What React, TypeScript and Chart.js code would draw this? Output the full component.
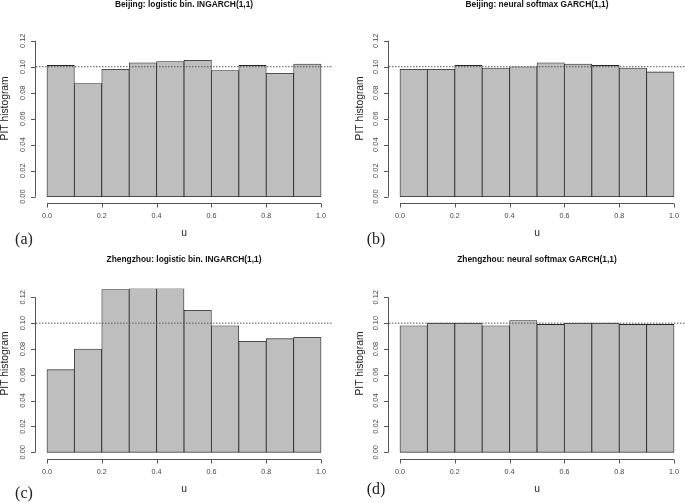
import React, { useEffect, useRef } from "react";
import { Chart, registerables } from "chart.js";

Chart.register(...registerables);

// ---------------- data ----------------
const binMids = [0.05, 0.15, 0.25, 0.35, 0.45, 0.55, 0.65, 0.75, 0.85, 0.95];
const beijingLogistic = [0.101, 0.087, 0.098, 0.103, 0.104, 0.105, 0.097, 0.101, 0.095, 0.102];
const beijingNeural = [0.098, 0.098, 0.101, 0.099, 0.1, 0.103, 0.102, 0.101, 0.099, 0.096];
const zhengzhouLogistic = [0.064, 0.08, 0.126, 0.127, 0.127, 0.11, 0.098, 0.086, 0.088, 0.089];
const zhengzhouNeural = [0.098, 0.1, 0.1, 0.098, 0.102, 0.099, 0.1, 0.1, 0.099, 0.099];
const uniformLevel = 0.1;
const xTicks = [0, 0.2, 0.4, 0.6, 0.8, 1.0];
const xTickLabels = ["0.0", "0.2", "0.4", "0.6", "0.8", "1.0"];
const yTicks = [0, 0.02, 0.04, 0.06, 0.08, 0.1, 0.12];
const yTickLabels = ["0.00", "0.02", "0.04", "0.06", "0.08", "0.10", "0.12"];
const panelTitles = [
  "Beijing: logistic bin. INGARCH(1,1)",
  "Beijing: neural softmax GARCH(1,1)",
  "Zhengzhou: logistic bin. INGARCH(1,1)",
  "Zhengzhou: neural softmax GARCH(1,1)",
];
const panelTags = ["(a)", "(b)", "(c)", "(d)"];
const xAxisTitle = "u";
const yAxisTitle = "PIT histogram";
const panelValues = [beijingLogistic, beijingNeural, zhengzhouLogistic, zhengzhouNeural];

// ---------------- layout ----------------
const X_MIN = -0.04;
const X_MAX = 1.04;
const SANS = "'Liberation Sans', Arial, Helvetica, sans-serif";

type Layout = {
  left: number; top: number; width: number; height: number;
  pad: { left: number; right: number; top: number; bottom: number };
  yMin: number; yMax: number;
  titleY: number; ylabX: number;
  tagX: number; tagY: number;
};

const layouts: Layout[] = [
  { left: 0, top: 0, width: 342, height: 250, pad: { left: 36, right: 10, top: 34.5, bottom: 46.7 }, yMin: -0.0051, yMax: 0.1248, titleY: 4.8, ylabX: 5.5, tagX: 24, tagY: 239 },
  { left: 342, top: 0, width: 343, height: 250, pad: { left: 47, right: 0, top: 34.5, bottom: 46.7 }, yMin: -0.0051, yMax: 0.1248, titleY: 4.8, ylabX: 18, tagX: 376, tagY: 239 },
  { left: 0, top: 250, width: 342, height: 253, pad: { left: 36, right: 10, top: 38.8, bottom: 43.7 }, yMin: -0.0054, yMax: 0.1266, titleY: 10, ylabX: 5.5, tagX: 24, tagY: 493 },
  { left: 342, top: 250, width: 343, height: 253, pad: { left: 47, right: 0, top: 38.8, bottom: 43.7 }, yMin: -0.0054, yMax: 0.1266, titleY: 10, ylabX: 18, tagX: 376, tagY: 489 },
];

function makeAxesPlugin(title: string, lay: Layout) {
  return {
    id: "rAxes",
    afterDraw(chart: any) {
      const ctx: CanvasRenderingContext2D = chart.ctx;
      const xs = chart.scales.x;
      const ys = chart.scales.y;
      const ca = chart.chartArea;
      ctx.save();
      ctx.strokeStyle = "#555";
      ctx.lineWidth = 1;
      // y axis
      const ax = Math.round(ca.left) - 0.5;
      const y0 = ys.getPixelForValue(yTicks[0]);
      const y1 = ys.getPixelForValue(yTicks[yTicks.length - 1]);
      ctx.beginPath();
      ctx.moveTo(ax, y0);
      ctx.lineTo(ax, y1);
      yTicks.forEach((v) => {
        const py = Math.round(ys.getPixelForValue(v)) + 0.5;
        ctx.moveTo(ax, py);
        ctx.lineTo(ax - 4.5, py);
      });
      // x axis
      const ay = Math.round(ca.bottom) + 0.5;
      const x0 = xs.getPixelForValue(xTicks[0]);
      const x1 = xs.getPixelForValue(xTicks[xTicks.length - 1]);
      ctx.moveTo(x0, ay);
      ctx.lineTo(x1, ay);
      xTicks.forEach((v) => {
        const px = Math.round(xs.getPixelForValue(v)) + 0.5;
        ctx.moveTo(px, ay);
        ctx.lineTo(px, ay + 4);
      });
      ctx.stroke();

      // tick labels
      ctx.fillStyle = "#444";
      ctx.font = `7.4px ${SANS}`;
      ctx.textAlign = "center";
      ctx.textBaseline = "middle";
      yTicks.forEach((v, i) => {
        const py = ys.getPixelForValue(v);
        ctx.save();
        ctx.translate(ax - 13, py);
        ctx.rotate(-Math.PI / 2);
        ctx.fillText(yTickLabels[i], 0, 0);
        ctx.restore();
      });
      ctx.font = `7.2px ${SANS}`;
      xTicks.forEach((v, i) => {
        ctx.fillText(xTickLabels[i], xs.getPixelForValue(v), ay + 13);
      });

      // titles
      const cx = (ca.left + ca.right) / 2;
      ctx.fillStyle = "#111";
      ctx.font = `bold 8.4px ${SANS}`;
      ctx.fillText(title, cx, lay.titleY);
      ctx.fillStyle = "#222";
      ctx.font = `10.3px ${SANS}`;
      ctx.fillText(xAxisTitle, cx, ay + 30);
      ctx.save();
      ctx.translate(lay.ylabX, (ca.top + ca.bottom) / 2 - 10.5);
      ctx.rotate(-Math.PI / 2);
      ctx.fillText(yAxisTitle, 0, 0);
      ctx.restore();
      ctx.restore();
    },
  };
}

function Panel({ idx }: { idx: number }) {
  const ref = useRef<HTMLCanvasElement | null>(null);
  const lay = layouts[idx];
  useEffect(() => {
    if (!ref.current) return;
    const values = panelValues[idx];
    const chart = new Chart(ref.current, {
      type: "bar",
      data: {
        datasets: [
          {
            type: "line",
            data: [
              { x: X_MIN, y: uniformLevel },
              { x: X_MAX, y: uniformLevel },
            ],
            borderColor: "#555",
            borderWidth: 1,
            borderDash: [1.5, 1.5],
            pointRadius: 0,
            fill: false,
            order: 0,
          } as any,
          {
            type: "bar",
            data: binMids.map((x, i) => ({ x, y: values[i] })),
            backgroundColor: "#bebebe",
            borderColor: "#262626",
            borderWidth: 0.8,
            borderSkipped: false,
            barPercentage: 1,
            categoryPercentage: 1,
            clip: 0,
            order: 1,
          } as any,
        ],
      },
      options: {
        animation: false,
        responsive: false,
        devicePixelRatio: 1,
        events: [],
        layout: { padding: lay.pad },
        plugins: { legend: { display: false }, tooltip: { enabled: false }, title: { display: false } },
        scales: {
          x: { type: "linear", min: X_MIN, max: X_MAX, offset: false, display: false },
          y: { type: "linear", min: lay.yMin, max: lay.yMax, display: false },
        },
      },
      plugins: [makeAxesPlugin(panelTitles[idx], lay)],
    } as any);
    return () => chart.destroy();
  }, [idx]);
  return (
    <canvas
      ref={ref}
      width={lay.width}
      height={lay.height}
      style={{ position: "absolute", left: lay.left, top: lay.top, width: lay.width, height: lay.height }}
    />
  );
}

export default function App() {
  return (
    <div style={{ position: "absolute", left: 0, top: 0, width: 685, height: 503, background: "#fff", overflow: "hidden" }}>
      {layouts.map((_, i) => (
        <Panel key={i} idx={i} />
      ))}
      {layouts.map((lay, i) => (
        <div
          key={"t" + i}
          style={{
            position: "absolute",
            left: lay.tagX,
            top: lay.tagY,
            transform: "translate(-50%, -50%)",
            fontFamily: "'Liberation Serif', 'Times New Roman', serif",
            fontSize: 16,
            lineHeight: "16px",
            color: "#222",
            whiteSpace: "nowrap",
          }}
        >
          {panelTags[i]}
        </div>
      ))}
    </div>
  );
}
